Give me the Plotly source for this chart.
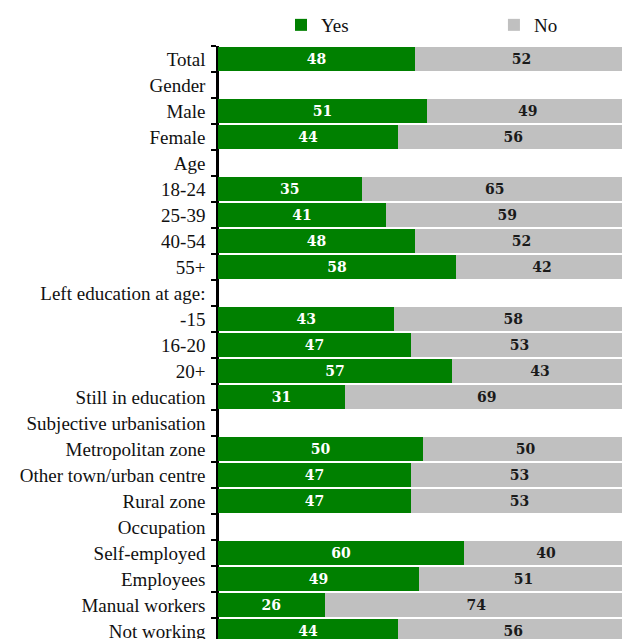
import plotly.graph_objects as go

# Survey breakdown: share answering Yes / No, by socio-demographic group
categories = [
    "Total", "Gender", "Male", "Female", "Age", "18-24", "25-39", "40-54", "55+",
    "Left education at age:", "-15", "16-20", "20+", "Still in education",
    "Subjective urbanisation", "Metropolitan zone", "Other town/urban centre",
    "Rural zone", "Occupation", "Self-employed", "Employees", "Manual workers",
    "Not working",
]
yes_values = [48, None, 51, 44, None, 35, 41, 48, 58, None, 43, 47, 57, 31,
              None, 50, 47, 47, None, 60, 49, 26, 44]
no_values = [52, None, 49, 56, None, 65, 59, 52, 42, None, 58, 53, 43, 69,
             None, 50, 53, 53, None, 40, 51, 74, 56]

GREEN = "#008000"
GREY = "#c0c0c0"
SERIF = "Liberation Serif, Times New Roman, serif"
LABEL_FONT = "DejaVu Serif, serif"

fig = go.Figure()
fig.add_trace(go.Bar(
    name="Yes", y=categories, x=yes_values, orientation="h",
    marker=dict(color=GREEN, line=dict(width=0)),
    texttemplate="%{x}", textposition="inside", insidetextanchor="middle",
    textfont=dict(family=LABEL_FONT, size=14, color="white", weight="bold"),
    hoverinfo="skip", legend="legend",
))
fig.add_trace(go.Bar(
    name="No", y=categories, x=no_values, orientation="h",
    marker=dict(color=GREY, line=dict(width=0)),
    texttemplate="%{x}", textposition="inside", insidetextanchor="middle",
    textfont=dict(family=LABEL_FONT, size=14, color="#1a1a1a", weight="bold"),
    hoverinfo="skip", legend="legend2",
))

n_rows = 22.8
legend_style = dict(
    orientation="h", y=1.0354, yanchor="middle", xanchor="left",
    font=dict(family=SERIF, size=19, color="#111111"),
    bgcolor="rgba(0,0,0,0)",
)
fig.update_layout(
    width=622, height=639,
    margin=dict(l=218, r=0, t=46, b=0, autoexpand=False),
    barmode="stack", bargap=0.08,
    plot_bgcolor="white", paper_bgcolor="white",
    font=dict(family=SERIF, size=19, color="#111111"),
    uniformtext=dict(minsize=14, mode="show"),
    showlegend=True,
    legend=dict(x=0.156, **legend_style),
    legend2=dict(x=0.683, **legend_style),
    xaxis=dict(
        range=[0, 98.5], fixedrange=True,
        showticklabels=False, showgrid=False,
        zeroline=True, zerolinecolor="#000000", zerolinewidth=1,
        showline=False, ticks="",
    ),
    yaxis=dict(
        type="category", categoryorder="array", categoryarray=categories,
        range=[n_rows - 0.5, -0.5],
        showline=True, linecolor="#000000", linewidth=1.5,
        ticks="outside", tickson="boundaries", ticklen=5, tickcolor="#000000",
        tickwidth=1.5, showgrid=False, ticklabelstandoff=7,
    ),
)

fig.write_html("out.html")
